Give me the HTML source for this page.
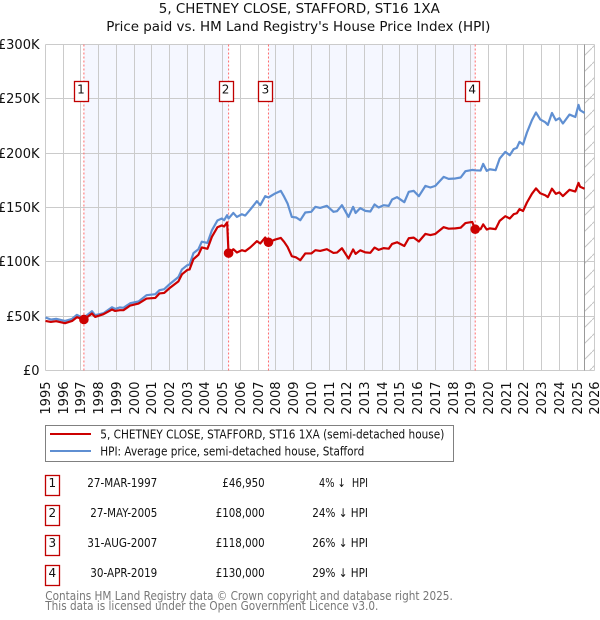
<!DOCTYPE html>
<html>
<head>
<meta charset="utf-8">
<title>5, CHETNEY CLOSE, STAFFORD, ST16 1XA</title>
<style>
html,body{margin:0;padding:0;background:#fff;width:600px;height:620px;overflow:hidden}
svg{display:block}
text{font-family:"DejaVu Sans","Liberation Sans",sans-serif;fill:#111}
.axis{font-size:13px}
.tb{font-size:12px}
.foot{font-size:12px;fill:#777}
.ttl{font-size:13.45px}
.box{fill:#fff;stroke:#c00000;stroke-width:1.3}
</style>
</head>
<body>
<svg id="chart" width="600" height="620" viewBox="0 0 600 620" xmlns="http://www.w3.org/2000/svg">
  <defs>
    <pattern id="hatch" patternUnits="userSpaceOnUse" width="16" height="16">
      <line x1="0" y1="16" x2="16" y2="0" stroke="#c4c4c4" stroke-width="1"/>
    </pattern>
  </defs>
  <text class="ttl" x="299.3" y="13" text-anchor="middle">5, CHETNEY CLOSE, STAFFORD, ST16 1XA</text>
  <text class="ttl" x="298.3" y="31" text-anchor="middle">Price paid vs. HM Land Registry's House Price Index (HPI)</text>

  <g id="shade"></g>
  <g id="grid"></g>
  <g id="forecast"></g>
  <g id="saleLines"></g>
  <g id="series"></g>
  <g id="saleMarks"></g>
  <g id="labels"></g>
  <g id="yTicks"></g>
  <g id="xTicks"></g>

  <g>
    <rect x="45.5" y="425.5" width="408" height="36" fill="#fff" stroke="#808080" stroke-width="1"/>
    <line x1="50" y1="434" x2="91" y2="434" stroke="#cc0000" stroke-width="2"/>
    <text class="tb" x="100.3" y="438.5" textLength="344" lengthAdjust="spacingAndGlyphs">5, CHETNEY CLOSE, STAFFORD, ST16 1XA (semi-detached house)</text>
    <line x1="50" y1="451" x2="91" y2="451" stroke="#5f8fd2" stroke-width="2"/>
    <text class="tb" x="100.3" y="455.5" textLength="264" lengthAdjust="spacingAndGlyphs">HPI: Average price, semi-detached house, Stafford</text>
  </g>

  <g>
    <g>
      <rect class="box" x="45.5" y="475.5" width="14" height="20"/>
      <text class="tb" x="52.3" y="487" text-anchor="middle">1</text>
      <text class="tb" x="87.3" y="487" textLength="70" lengthAdjust="spacingAndGlyphs">27-MAR-1997</text>
      <text class="tb" x="222.3" y="487" textLength="42.4" lengthAdjust="spacingAndGlyphs">£46,950</text>
      <text class="tb" x="319" y="487" textLength="49" lengthAdjust="spacingAndGlyphs">4% ↓&#160; HPI</text>
    </g>
    <g>
      <rect class="box" x="45.5" y="505.5" width="14" height="20"/>
      <text class="tb" x="52.3" y="517" text-anchor="middle">2</text>
      <text class="tb" x="90.3" y="517" textLength="67" lengthAdjust="spacingAndGlyphs">27-MAY-2005</text>
      <text class="tb" x="215.7" y="517" textLength="49" lengthAdjust="spacingAndGlyphs">£108,000</text>
      <text class="tb" x="312.3" y="517" textLength="55.7" lengthAdjust="spacingAndGlyphs">24% ↓ HPI</text>
    </g>
    <g>
      <rect class="box" x="45.5" y="535.5" width="14" height="20"/>
      <text class="tb" x="52.3" y="547" text-anchor="middle">3</text>
      <text class="tb" x="87.3" y="547" textLength="70" lengthAdjust="spacingAndGlyphs">31-AUG-2007</text>
      <text class="tb" x="215.7" y="547" textLength="49" lengthAdjust="spacingAndGlyphs">£118,000</text>
      <text class="tb" x="312.3" y="547" textLength="55.7" lengthAdjust="spacingAndGlyphs">26% ↓ HPI</text>
    </g>
    <g>
      <rect class="box" x="45.5" y="565.5" width="14" height="20"/>
      <text class="tb" x="52.3" y="577" text-anchor="middle">4</text>
      <text class="tb" x="90.3" y="577" textLength="67" lengthAdjust="spacingAndGlyphs">30-APR-2019</text>
      <text class="tb" x="215.7" y="577" textLength="49" lengthAdjust="spacingAndGlyphs">£130,000</text>
      <text class="tb" x="312.3" y="577" textLength="55.7" lengthAdjust="spacingAndGlyphs">29% ↓ HPI</text>
    </g>
  </g>

  <text class="foot" x="45.3" y="600" textLength="407.5" lengthAdjust="spacingAndGlyphs">Contains HM Land Registry data © Crown copyright and database right 2025.</text>
  <text class="foot" x="45.3" y="610" textLength="333" lengthAdjust="spacingAndGlyphs">This data is licensed under the Open Government Licence v3.0.</text>
</svg>
<script>
var years = [1995,1996,1997,1998,1999,2000,2001,2002,2003,2004,2005,2006,2007,2008,2009,2010,2011,2012,2013,2014,2015,2016,2017,2018,2019,2020,2021,2022,2023,2024,2025,2026];
var yTickValues = [0,50,100,150,200,250,300];
var yTickLabels = ['£0','£50K','£100K','£150K','£200K','£250K','£300K'];
var dates = [1995,1995.3,1995.6,1996.1,1996.5,1996.77,1997.05,1997.167,1997.62,1997.8,1998.27,1998.75,1998.93,1999.2,1999.4,1999.78,2000.25,2000.7,2001.2,2001.43,2001.7,2002,2002.5,2002.7,2003,2003.13,2003.35,2003.63,2003.82,2004.14,2004.39,2004.7,2004.95,2005.08,2005.25,2005.33,2005.6,2005.8,2006.08,2006.27,2006.55,2006.93,2007.12,2007.4,2007.58,2007.96,2008.28,2008.47,2008.66,2008.9,2009.15,2009.38,2009.66,2010,2010.23,2010.5,2010.88,2011.25,2011.45,2011.73,2012.1,2012.36,2012.5,2012.76,2013.05,2013.33,2013.57,2013.8,2014.08,2014.37,2014.56,2014.84,2015.25,2015.5,2015.78,2016.07,2016.44,2016.72,2017,2017.47,2017.75,2018.13,2018.43,2018.7,2019.08,2019.25,2019.55,2019.7,2019.9,2020.07,2020.4,2020.63,2020.95,2021.2,2021.42,2021.6,2021.75,2021.95,2022.17,2022.45,2022.68,2022.92,2023.2,2023.35,2023.58,2023.8,2024,2024.2,2024.57,2024.9,2025.08,2025.17,2025.42];
var hpiValues = [48.8,46.9,47.5,45.6,47.5,51.2,48.8,48.6,54.6,50.9,52.7,58.2,56.7,58,57.7,61.9,63.5,69.3,70.2,73.9,74.8,79.4,86,93,96.9,97.5,108,111.6,118.5,117.4,129,138,139.9,138.3,142.9,139.9,145,141.3,143.8,142.6,148,155.8,152.1,160.4,159.2,162.9,165.3,159.8,153.7,141.3,140.8,138.3,145.4,146,150.6,149.6,151.5,146,146.6,152.1,141.3,150.6,145,149.4,146.9,146.3,152.8,150,152.1,151.5,157.4,159.5,154.9,164.4,165.3,160.4,169.9,168.4,169.9,178.2,176.3,176.7,177.6,183.4,184.6,184.2,184,190.1,183.7,185.2,184.3,195,201.2,198.1,203.7,204.9,210.4,208,219,230.3,237.4,231,228.5,226,237,230.3,232.2,227.3,235.5,233.3,244.4,239.5,237];
var priceValues = [45.6,44.7,45.4,43.5,45.6,49,47.8,46.95,52.4,49.3,51.8,56.1,54.8,55.5,55.5,59.8,61.6,66.2,66.8,70.9,71.4,75.8,82,88.5,92.5,93,102.5,106.5,113.2,112,123,131.8,133.5,132.5,136.3,108,111.6,108.6,110.7,109.8,113.2,119,116.9,122.4,118,120.5,122,118.3,113.7,105.2,104,101.5,107.7,107.7,110.7,110,111.6,108.2,108.5,112.5,103,111.4,107.3,110.6,108.7,108.3,113.1,111,112.6,112.1,116.5,118,114.6,121.7,122.3,118.7,125.7,124.6,125.7,131.9,130.5,130.8,131.4,135.7,136.7,130,130,134.5,129.7,130.8,130.1,137.7,142,139.9,143.8,144.7,148.5,146.8,154.6,162.6,167.6,163.1,161.3,159.6,167.3,162.6,163.9,160.5,166.3,164.7,172.6,169.1,167.3];
var saleDates = [1997.167,2005.333,2007.583,2019.25];
var salePrices = [46.95,108,118,130];
var saleNumbers = ['1','2','3','4'];
var dataEnd = 2025.42;

var NS = 'http://www.w3.org/2000/svg';
function xS(v){ return 45.5 + (v - 1995) * 17.72; }
function yS(v){ return 370.5 - v * 1.0867; }
function snap(p){ return Math.floor(p) + 0.5; }
function mk(parent, tag, attrs){
  var el = document.createElementNS(NS, tag);
  for (var k in attrs) el.setAttribute(k, attrs[k]);
  document.getElementById(parent).appendChild(el);
  return el;
}
var yTop = snap(yS(300)), yBot = snap(yS(0)), xL = snap(xS(1995)), xR = snap(xS(2026));

[[0,1],[2,3]].forEach(function(p, i){
  var r = mk('shade','rect',{x:xS(saleDates[p[0]]),y:yTop,width:xS(saleDates[p[1]])-xS(saleDates[p[0]]),height:yBot-yTop,fill:'#f5f7ff'});
  
  
});

years.forEach(function(y){
  var l = mk('grid','line',{x1:snap(xS(y)),x2:snap(xS(y)),y1:yTop,y2:yBot,stroke:'#cbcbcb','stroke-width':1});
  
  
  var t = mk('xTicks','text',{'class':'axis','text-anchor':'end',transform:'translate('+(snap(xS(y))+4.7)+',381.5) rotate(-90)'});
  t.textContent = y;
  
  
});
yTickValues.forEach(function(v, i){
  var l = mk('grid','line',{x1:xL,x2:xR,y1:snap(yS(v)),y2:snap(yS(v)),stroke:'#cbcbcb','stroke-width':1});
  
  
  var t = mk('yTicks','text',{'class':'axis','text-anchor':'end',x:39.5,y:snap(yS(v))+4.5});
  t.textContent = yTickLabels[i];
  
  
});

var h = mk('forecast','rect',{x:xS(dataEnd),y:yTop,width:xR-xS(dataEnd),height:yBot-yTop,fill:'url(#hatch)'});


var e = mk('forecast','line',{x1:snap(xS(dataEnd)),x2:snap(xS(dataEnd)),y1:yTop,y2:yBot,stroke:'#999','stroke-width':1});



function pathFrom(xs, ys){
  return xs.map(function(d, i){ return (i ? 'L' : 'M') + xS(d).toFixed(2) + ' ' + yS(ys[i]).toFixed(2); }).join(' ');
}
var hpiLine = mk('series','path',{d:pathFrom(dates,hpiValues),fill:'none',stroke:'#5f8fd2','stroke-width':2.2,'stroke-linejoin':'round'});


var priceLine = mk('series','path',{d:pathFrom(dates,priceValues),fill:'none',stroke:'#cc0000','stroke-width':2.2,'stroke-linejoin':'round'});



saleDates.forEach(function(d, i){
  var sx = xS(d);
  var dl = mk('saleLines','line',{x1:sx,x2:sx,y1:yTop,y2:yBot,stroke:'#ff6b6b','stroke-width':1,'stroke-dasharray':'2 2'});
  
  
  var c = mk('saleMarks','circle',{cx:sx,cy:yS(salePrices[i]),r:4.8,fill:'#cc0000'});
  
  
  var b = mk('labels','rect',{'class':'box',x:Math.round(sx-3-7)+0.5,y:81.5,width:14,height:20});
  
  
  var t = mk('labels','text',{'class':'tb',x:sx-3,y:93.5,'text-anchor':'middle'});
  t.textContent = saleNumbers[i];
  
  
});
</script>
</body>
</html>
